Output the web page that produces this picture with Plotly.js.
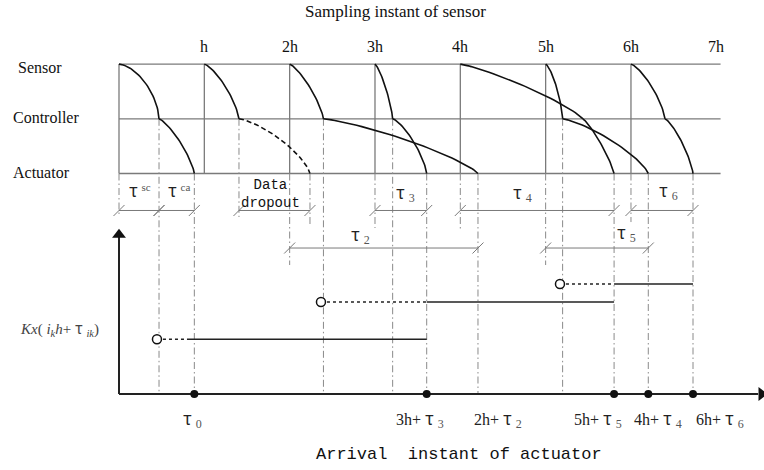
<!DOCTYPE html>
<html><head><meta charset="utf-8">
<script src="https://cdn.plot.ly/plotly-3.0.1.min.js"></script>
<style>html,body{margin:0;padding:0;background:#fff}</style>
</head><body><div id="chart" style="width:764px;height:470px"></div>
<script>
// ---------- data (time in units of the sampling period h) ----------
const sampleTimes  = [0, 1, 2, 3, 4, 5, 6];
const sampleLabels = ["h", "2h", "3h", "4h", "5h", "6h", "7h"];
const sampleLabelTimes = [1, 2, 3, 4, 5, 6, 7];
const levelNames   = ["Sensor", "Controller", "Actuator"];
const levelValues  = [2, 1, 0];
// packets: sensor sampling time, controller time, actuator arrival time
const pktSend    = [0, 1, 2, 3, 4, 5, 6];
const pktCtrl    = [0.469, 1.406, 2.396, 3.207, 5.436, 5.199, 6.399];
const pktArrive  = [0.883, 2.238, 4.207, 3.606, 5.802, 6.203, 6.727];
const pktDropped = [false, true, false, false, false, false, false];
// delay brackets
const delayRow1From = [0, 0.469, 1.406, 3, 4, 6];
const delayRow1To   = [0.469, 0.883, 2.238, 3.606, 5.802, 6.727];
const delayRow2From = [2, 5];
const delayRow2To   = [4.207, 6.203];
// guide (dash-dot) lines: time and starting level
const guideTimes = [0, 0.469, 0.883, 1.406, 2.238, 2, 2.396, 3, 3.207, 3.606, 4, 4.207, 5, 5.199, 5.802, 6, 6.203, 6.727];
const guideFrom  = [0, 1, 0, 1, 0, 0, 1, 0, 1, 0, 0, 0, 0, 1, 0, 0, 0, 0];
// held control signal Kx(i_k h + tau_ik)
const holdStart  = [0.445, 2.367, 5.168];
const holdDotEnd = [0.797, 3.606, 5.802];
const holdEnd    = [3.606, 5.802, 6.727];
const holdValue  = [1.0, 1.68, 2.01];
const arrivalDots = [0.883, 3.606, 5.802, 6.203, 6.727];
const arrivalLabelNames = ["", "3h+", "2h+", "5h+", "4h+", "6h+"];
const arrivalLabelSubs  = ["0", "3", "2", "5", "4", "6"];
const arrivalLabelTimes = [0.86, 3.527, 4.44, 5.61, 6.317, 7.043];
const delayLabelSubs  = ["3", "4", "6", "2", "5"];
const delayLabelTimes = [3.352, 4.723, 6.434, 2.836, 5.953];

// ---------- layout constants ----------
const XR = [-1.3946, 7.559], YR = [-5.42, 3.172];
const BASE = -4.03;           // lower axis level
const ROW1 = -0.676, ROW2 = -1.362;
const guideBottom = [-0.74, BASE, BASE, -0.795, -0.941, -1.673, BASE, -0.996, BASE, BASE, -1.033, BASE, -1.673, BASE, BASE, -0.887, BASE, BASE];
const delayLabelY = [-0.33, -0.33, -0.31, -1.10, -1.07];
const pSc = [1.65, 1.35, 1.3, 1.3, 1.2, 1.4, 1.35];
const pCa = [1.3, 1.37, 1.25, 1.35, 1.2, 1.3, 1.3];
const SERIF = "Liberation Serif, Times New Roman, serif";
const MONO = "Liberation Mono, Courier New, monospace";
const TAU = '<span style="font-family:Noto Sans CJK SC;font-size:17px">τ</span>';
const sub = s => ' <sub><span style="color:#555;font-size:12px">' + s + '</span></sub>';
const sup = s => ' <sup><span style="color:#555;font-size:11px">' + s + '</span></sup>';

function arc(xs, ys, x0, y0, x1, y1, p) {
  const n = 40;
  for (let i = 0; i <= n; i++) {
    const th = (Math.PI / 2) * i / n;
    const u = Math.pow(Math.sin(th), 2 / p);
    const w = 1 - Math.pow(Math.cos(th), 2 / p);
    xs.push(x0 + (x1 - x0) * u);
    ys.push(y0 + (y1 - y0) * w);
  }
  xs.push(null); ys.push(null);
}

const traces = [];
const grey = "#7a7a7a";

// level lines
{
  const xs = [], ys = [];
  levelValues.forEach(v => { xs.push(0, 7.05, null); ys.push(v, v, null); });
  sampleTimes.forEach(t => { xs.push(t, t, null); ys.push(levelValues[0], levelValues[2], null); });
  traces.push({x: xs, y: ys, mode: "lines", line: {color: grey, width: 1.3}, hoverinfo: "skip"});
}
// guide lines
{
  const xs = [], ys = [];
  guideTimes.forEach((t, i) => { xs.push(t, t, null); ys.push(guideFrom[i], guideBottom[i], null); });
  traces.push({x: xs, y: ys, mode: "lines", line: {color: "#8a8a8a", width: 1, dash: "7px,3px,1.5px,3px"}, hoverinfo: "skip"});
}
// brackets
{
  const xs = [], ys = [], mx = [], my = [];
  const rows = [[delayRow1From, delayRow1To, ROW1], [delayRow2From, delayRow2To, ROW2]];
  rows.forEach(([fr, to, yv]) => {
    fr.forEach((a, i) => {
      xs.push(a, to[i], null); ys.push(yv, yv, null);
      mx.push(a, to[i]); my.push(yv, yv);
    });
  });
  traces.push({x: xs, y: ys, mode: "lines", line: {color: grey, width: 1}, hoverinfo: "skip"});
  traces.push({x: mx, y: my, mode: "markers", marker: {symbol: "line-ne", size: 11, line: {color: grey, width: 1}}, hoverinfo: "skip"});
}
// packet curves
{
  const sx = [], sy = [], dx = [], dy = [];
  pktSend.forEach((t, i) => {
    arc(sx, sy, t, levelValues[0], pktCtrl[i], levelValues[1], pSc[i]);
    if (pktDropped[i]) arc(dx, dy, pktCtrl[i], levelValues[1], pktArrive[i], levelValues[2], pCa[i]);
    else arc(sx, sy, pktCtrl[i], levelValues[1], pktArrive[i], levelValues[2], pCa[i]);
  });
  traces.push({x: sx, y: sy, mode: "lines", line: {color: "#111", width: 1.6}, hoverinfo: "skip"});
  traces.push({x: dx, y: dy, mode: "lines", line: {color: "#111", width: 1.6, dash: "5px,3px"}, hoverinfo: "skip"});
}
// lower axes
traces.push({x: [0, 0, null, 0, 7.49], y: [BASE, -1.16, null, BASE, BASE], mode: "lines", line: {color: "#222", width: 2}, hoverinfo: "skip"});
traces.push({x: [0], y: [-1.12], mode: "markers", marker: {symbol: "triangle-up", size: 12, color: "#111"}, hoverinfo: "skip"});
traces.push({x: [7.53], y: [BASE], mode: "markers", marker: {symbol: "triangle-right", size: 12, color: "#111"}, hoverinfo: "skip"});
// held signal
{
  const dx = [], dy = [], sx = [], sy = [];
  holdStart.forEach((t, i) => {
    const v = BASE + holdValue[i];
    dx.push(t, holdDotEnd[i], null); dy.push(v, v, null);
    sx.push(holdDotEnd[i], holdEnd[i], null); sy.push(v, v, null);
  });
  traces.push({x: dx, y: dy, mode: "lines", line: {color: "#222", width: 1.5, dash: "dot"}, hoverinfo: "skip"});
  traces.push({x: sx, y: sy, mode: "lines", line: {color: "#222", width: 1.5}, hoverinfo: "skip"});
  traces.push({x: holdStart, y: holdValue.map(v => BASE + v), mode: "markers",
    marker: {symbol: "circle", size: 9, color: "#fff", line: {color: "#111", width: 1.5}}, hoverinfo: "skip"});
}
traces.push({x: arrivalDots, y: arrivalDots.map(() => BASE), mode: "markers", marker: {size: 8, color: "#111"}, hoverinfo: "skip"});

// ---------- annotations ----------
const ann = [];
function A(x, y, text, size, family, color) {
  ann.push({x: x, y: y, xref: "x", yref: "y", text: text, showarrow: false,
    xanchor: "center", yanchor: "middle", font: {size: size, family: family, color: color || "#111"}});
}
ann.push({x: 0.518, y: 0.975, xref: "paper", yref: "paper", text: "Sampling instant of sensor", showarrow: false,
  xanchor: "center", yanchor: "middle", font: {size: 17, family: SERIF, color: "#111"}});
sampleLabels.forEach((s, i) => A(sampleLabelTimes[i], 2.33, s, 16, SERIF));
const levelLabelX = [-0.926, -0.855, -0.914];
const levelLabelY = [1.93, 1.02, 0.02];
levelNames.forEach((s, i) => A(levelLabelX[i], levelLabelY[i], s, 16, SERIF));
A(0.246, -0.30, TAU + sup("sc"), 15, SERIF, "#222");
A(0.703, -0.30, TAU + sup("ca"), 15, SERIF, "#222");
A(1.770, -0.375, "Data<br>dropout", 14, MONO);
delayLabelSubs.forEach((s, i) => A(delayLabelTimes[i], delayLabelY[i], TAU + sub(s), 16, SERIF, "#222"));
A(-0.70, -2.82, "<i>Kx</i>( <i>i<sub>k</sub>h</i>+ " + '<span style="font-family:Noto Sans CJK SC">τ</span>' + " <i><sub>ik</sub></i>)", 15, SERIF, "#444");
arrivalLabelNames.forEach((s, i) => A(arrivalLabelTimes[i], -4.47, (s ? s + " " : "") + TAU + sub(arrivalLabelSubs[i]), 16, SERIF, "#222"));
A(3.985, -5.14, "Arrival  instant of actuator", 17, MONO);

const ax = {range: XR, showgrid: false, zeroline: false, showticklabels: false, ticks: "", showline: false, fixedrange: true};
const layout = {
  width: 764, height: 470, margin: {l: 0, r: 0, t: 0, b: 0},
  paper_bgcolor: "#fff", plot_bgcolor: "#fff", showlegend: false,
  xaxis: ax,
  yaxis: Object.assign({}, ax, {range: YR}),
  annotations: ann
};
Plotly.newPlot("chart", traces, layout, {staticPlot: true, displayModeBar: false});
</script></body></html>
